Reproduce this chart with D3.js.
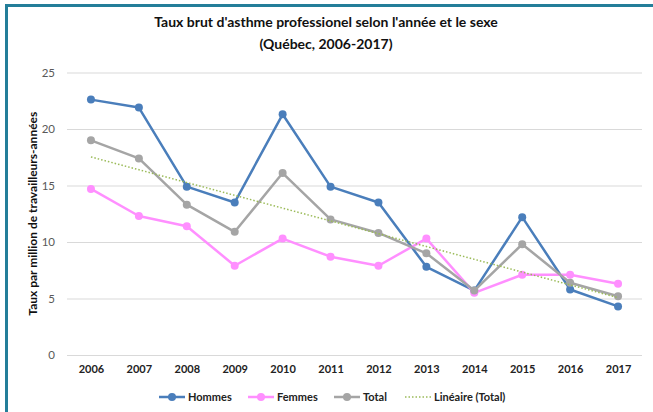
<!DOCTYPE html>
<html>
<head>
<meta charset="utf-8">
<script src="https://d3js.org/d3.v7.min.js"></script>
<style>
  body { margin: 0; background: #fff; }
  text { font-family: Lato, "Open Sans", sans-serif; }
</style>
</head>
<body>
<div class="chart"></div>
<script>
// Taux brut d'asthme professionnel, Québec 2006-2017
var years = ["2006", "2007", "2008", "2009", "2010", "2011", "2012", "2013", "2014", "2015", "2016", "2017"];
var hommes = [22.6, 21.9, 14.9, 13.5, 21.3, 14.9, 13.5, 7.8, 5.7, 12.2, 5.8, 4.3];
var femmes = [14.7, 12.3, 11.4, 7.9, 10.3, 8.7, 7.9, 10.3, 5.5, 7.1, 7.1, 6.3];
var total = [19.0, 17.4, 13.3, 10.9, 16.1, 12.0, 10.8, 9.0, 5.7, 9.8, 6.4, 5.2];
var yTicks = [0, 5, 10, 15, 20, 25];

var svgWidth = 653;
var svgHeight = 412;
var plot = { left: 67, right: 642, top: 72.5, bottom: 355 };

var svg = d3.select(".chart")
    .append("svg")
    .attr("width", svgWidth)
    .attr("height", svgHeight);

// scales
var xScale = d3.scalePoint()
    .domain(years)
    .range([plot.left, plot.right])
    .padding(0.5);
var yScale = d3.scaleLinear()
    .domain([0, 25])
    .range([plot.bottom, plot.top]);

// frame border (left + top only)
svg.append("path")
    .attr("d", "M6.5," + svgHeight + "V5.5H" + svgWidth)
    .attr("fill", "none")
    .attr("stroke", "#237e99")
    .attr("stroke-width", 3);

// title
svg.append("text")
    .attr("x", 326)
    .attr("y", 27)
    .attr("text-anchor", "middle")
    .style("font-size", "14px")
    .style("font-weight", "bold")
    .attr("fill", "#111")
    .text("Taux brut d'asthme professionel selon l'année et le sexe");
svg.append("text")
    .attr("x", 326)
    .attr("y", 49)
    .attr("text-anchor", "middle")
    .style("font-size", "14px")
    .style("font-weight", "bold")
    .attr("fill", "#111")
    .text("(Québec, 2006-2017)");

// gridlines + y axis
var leftAxis = d3.axisLeft(yScale)
    .tickValues(yTicks)
    .tickSize(-(plot.right - plot.left))
    .tickPadding(12);
var yAxisG = svg.append("g")
    .attr("transform", "translate(" + plot.left + ",0)")
    .call(leftAxis);
yAxisG.select(".domain").remove();
yAxisG.selectAll(".tick line")
    .attr("stroke", "#d9d9d9")
    .attr("stroke-width", 1);
yAxisG.selectAll(".tick text")
    .attr("fill", "#595959")
    .style("font-size", "11.5px")
    .style("font-family", "Lato, sans-serif");

// x axis labels
var bottomAxis = d3.axisBottom(xScale).tickSize(0).tickPadding(10);
var xAxisG = svg.append("g")
    .attr("transform", "translate(0," + plot.bottom + ")")
    .call(bottomAxis);
xAxisG.select(".domain").remove();
xAxisG.selectAll(".tick text")
    .attr("fill", "#222")
    .style("font-size", "11px")
    .style("font-weight", "bold")
    .style("font-family", "Lato, sans-serif");

// y axis title
svg.append("text")
    .attr("transform", "translate(37," + ((plot.top + plot.bottom) / 2) + ") rotate(-90)")
    .attr("text-anchor", "middle")
    .style("font-size", "12px")
    .style("font-weight", "bold")
    .attr("fill", "#111")
    .text("Taux par million de travailleurs-années");

// trend line (linear regression on Total)
var idx = d3.range(years.length);
var mx = d3.mean(idx);
var my = d3.mean(total);
var sxy = d3.sum(idx, function(i) { return (i - mx) * (total[i] - my); });
var sxx = d3.sum(idx, function(i) { return (i - mx) * (i - mx); });
var slope = sxy / sxx;
var intercept = my - slope * mx;
var trend = [intercept, intercept + slope * (years.length - 1)];

var series = [
    { name: "Hommes", values: hommes, color: "#4a7ebb" },
    { name: "Femmes", values: femmes, color: "#ff8fff" },
    { name: "Total", values: total, color: "#a5a5a5" }
];

var line = d3.line()
    .x(function(d, i) { return xScale(years[i]); })
    .y(function(d) { return yScale(d); });

series.forEach(function(s) {
    var g = svg.append("g");
    g.append("path")
        .datum(s.values)
        .attr("d", line)
        .attr("fill", "none")
        .attr("stroke", s.color)
        .attr("stroke-width", 2.5)
        .attr("stroke-linejoin", "round");
    g.selectAll("circle")
        .data(s.values)
        .enter()
        .append("circle")
        .attr("cx", function(d, i) { return xScale(years[i]); })
        .attr("cy", function(d) { return yScale(d); })
        .attr("r", 4)
        .attr("fill", s.color);
});

svg.append("line")
    .attr("x1", xScale(years[0]))
    .attr("y1", yScale(trend[0]))
    .attr("x2", xScale(years[years.length - 1]))
    .attr("y2", yScale(trend[1]))
    .attr("stroke", "#9bbb59")
    .attr("stroke-width", 1.5)
    .attr("stroke-dasharray", "1.5,2");

// legend
var legendY = 397;
var legendItems = [
    { name: "Hommes", color: "#4a7ebb", x: 159, marker: true },
    { name: "Femmes", color: "#ff8fff", x: 248, marker: true },
    { name: "Total", color: "#a5a5a5", x: 334, marker: true },
    { name: "Linéaire (Total)", color: "#9bbb59", x: 405, marker: false }
];
legendItems.forEach(function(item) {
    var g = svg.append("g");
    g.append("line")
        .attr("x1", item.x)
        .attr("x2", item.x + 26)
        .attr("y1", legendY)
        .attr("y2", legendY)
        .attr("stroke", item.color)
        .attr("stroke-width", item.marker ? 2.5 : 1.5)
        .attr("stroke-dasharray", item.marker ? null : "1.5,2");
    if (item.marker) {
        g.append("circle")
            .attr("cx", item.x + 13)
            .attr("cy", legendY)
            .attr("r", 4)
            .attr("fill", item.color);
    }
    g.append("text")
        .attr("x", item.x + 29)
        .attr("y", legendY + 4)
        .style("font-size", "11px")
        .style("font-weight", "bold")
        .attr("fill", "#222")
        .text(item.name);
});
</script>
</body>
</html>
